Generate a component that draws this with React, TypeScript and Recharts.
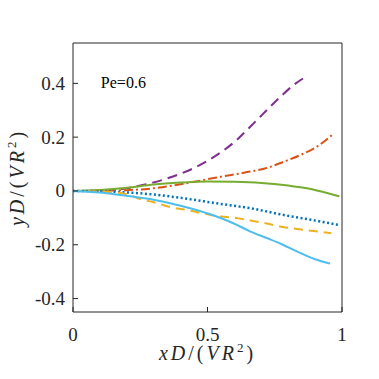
import { LineChart, Line, XAxis, YAxis, ReferenceDot } from "recharts";

const purpleX = [0, 0.1, 0.2, 0.25, 0.29, 0.36, 0.447, 0.534, 0.608, 0.658, 0.72, 0.77, 0.819, 0.866];
const purpleY = [0, 0.001, 0.01, 0.02, 0.029, 0.05, 0.084, 0.133, 0.189, 0.238, 0.3, 0.349, 0.393, 0.425];

const orangeX = [0, 0.1, 0.2, 0.3, 0.4, 0.534, 0.658, 0.72, 0.782, 0.844, 0.906, 0.962];
const orangeY = [0, 0.001, 0.003, 0.01, 0.025, 0.05, 0.072, 0.085, 0.108, 0.133, 0.164, 0.207];

const greenX = [0, 0.1, 0.2, 0.3, 0.4, 0.5, 0.6, 0.7, 0.8, 0.87, 0.93, 0.99];
const greenY = [0, 0.004, 0.012, 0.024, 0.031, 0.035, 0.034, 0.03, 0.02, 0.01, -0.004, -0.02];

const blueX = [0, 0.15, 0.286, 0.41, 0.534, 0.658, 0.782, 0.906, 0.986];
const blueY = [0, -0.003, -0.012, -0.027, -0.046, -0.064, -0.089, -0.111, -0.126];

const yellowX = [0, 0.15, 0.2, 0.25, 0.3, 0.36, 0.42, 0.48, 0.55, 0.61, 0.66, 0.73, 0.78, 0.84, 0.91, 0.96];
const yellowY = [0, -0.004, -0.012, -0.03, -0.042, -0.06, -0.07, -0.083, -0.095, -0.101, -0.11, -0.123, -0.134, -0.142, -0.151, -0.157];

const cyanX = [0, 0.1, 0.175, 0.29, 0.4, 0.534, 0.596, 0.658, 0.72, 0.78, 0.844, 0.906, 0.955];
const cyanY = [0, -0.006, -0.015, -0.031, -0.055, -0.095, -0.12, -0.15, -0.175, -0.2, -0.23, -0.256, -0.27];

const xTicks = [0, 0.5, 1];
const yTicks = [-0.4, -0.2, 0, 0.2, 0.4];

const zip = (xs: number[], ys: number[]) => xs.map((x, i) => ({ x, y: ys[i] }));

const FONT = "'Liberation Serif', 'Times New Roman', Times, serif";
const INK = "#262626";
const serif = { fontFamily: FONT };

const fmt = (v: number) => (v === 0 ? "0" : String(v));

const XTick = (props: any) => (
  <text x={props.x} y={props.y} dy={34} textAnchor="middle" style={serif} fontSize={19} fill={INK}>
    {fmt(props.payload.value)}
  </text>
);

const YTick = (props: any) => (
  <text x={props.x} y={props.y} dy={6.5} textAnchor="end" style={serif} fontSize={19} fill={INK}>
    {fmt(props.payload.value)}
  </text>
);

const MathLabel = ({ v }: { v: string }) => (
  <>
    <tspan fontStyle="italic">{v}D</tspan>
    <tspan>/(</tspan>
    <tspan fontStyle="italic">VR</tspan>
    <tspan fontSize={13} dy={-8}>2</tspan>
    <tspan dy={8}>)</tspan>
  </>
);

const XLabel = (props: any) => {
  const vb = props.viewBox;
  const cx = vb.x + vb.width / 2;
  return (
    <text x={cx} y={vb.y + 48} textAnchor="middle" style={serif} fontSize={20} letterSpacing={3} fill={INK}>
      <MathLabel v="x" />
    </text>
  );
};

const YLabel = (props: any) => {
  const vb = props.viewBox;
  const cx = vb.x + 24;
  const cy = vb.y + vb.height / 2;
  return (
    <text
      x={cx}
      y={cy}
      textAnchor="middle"
      style={serif}
      fontSize={20}
      letterSpacing={3}
      fill={INK}
      transform={`rotate(-90 ${cx} ${cy})`}
    >
      <MathLabel v="y" />
    </text>
  );
};

const PeLabel = (props: any) => {
  const vb = props.viewBox;
  return (
    <text x={vb.x + vb.width / 2 + 5} y={vb.y + vb.height / 2 + 6} style={serif} fontSize={16} fill="#000">
      Pe=0.6
    </text>
  );
};

export default function App() {
  return (
    <div style={{ position: "absolute", left: 0, top: 0, background: "#fff" }}>
      <LineChart width={379} height={379} margin={{ top: 43, right: 37, bottom: 0, left: 0 }}>
        <XAxis
          xAxisId="b"
          dataKey="x"
          type="number"
          domain={[0, 1]}
          ticks={xTicks}
          allowDataOverflow
          height={67}
          stroke={INK}
          tickSize={-5}
          tickMargin={0}
          tick={<XTick />}
          label={<XLabel />}
        />
        <XAxis
          xAxisId="t"
          orientation="top"
          dataKey="x"
          type="number"
          domain={[0, 1]}
          ticks={xTicks}
          mirror
          stroke={INK}
          tickSize={5}
          tick={false}
        />
        <YAxis
          yAxisId="l"
          type="number"
          domain={[-0.45, 0.55]}
          ticks={yTicks}
          allowDataOverflow
          width={73}
          stroke={INK}
          tickSize={-5}
          tickMargin={13}
          tick={<YTick />}
          label={<YLabel />}
        />
        <YAxis
          yAxisId="r"
          orientation="right"
          type="number"
          domain={[-0.45, 0.55]}
          ticks={yTicks}
          mirror
          stroke={INK}
          tickSize={5}
          tick={false}
        />
        <ReferenceDot
          xAxisId="b"
          yAxisId="l"
          x={0.085}
          y={0.405}
          r={0}
          fill="none"
          stroke="none"
          label={<PeLabel />}
        />
        <Line xAxisId="b" yAxisId="l" data={zip(purpleX, purpleY)} dataKey="y" type="monotone" stroke="#7E2F8E" strokeWidth={2} strokeDasharray="10 6" dot={false} isAnimationActive={false} />
        <Line xAxisId="b" yAxisId="l" data={zip(orangeX, orangeY)} dataKey="y" type="monotone" stroke="#D95319" strokeWidth={2} strokeDasharray="9 3 2 3" dot={false} isAnimationActive={false} />
        <Line xAxisId="b" yAxisId="l" data={zip(greenX, greenY)} dataKey="y" type="monotone" stroke="#77AC30" strokeWidth={2} dot={false} isAnimationActive={false} />
        <Line xAxisId="b" yAxisId="l" data={zip(blueX, blueY)} dataKey="y" type="monotone" stroke="#0072BD" strokeWidth={2.5} strokeDasharray="2 2.5" dot={false} isAnimationActive={false} />
        <Line xAxisId="b" yAxisId="l" data={zip(yellowX, yellowY)} dataKey="y" type="monotone" stroke="#EDB120" strokeWidth={2} strokeDasharray="9 6" dot={false} isAnimationActive={false} />
        <Line xAxisId="b" yAxisId="l" data={zip(cyanX, cyanY)} dataKey="y" type="monotone" stroke="#4DBEEE" strokeWidth={2} dot={false} isAnimationActive={false} />
      </LineChart>
    </div>
  );
}
